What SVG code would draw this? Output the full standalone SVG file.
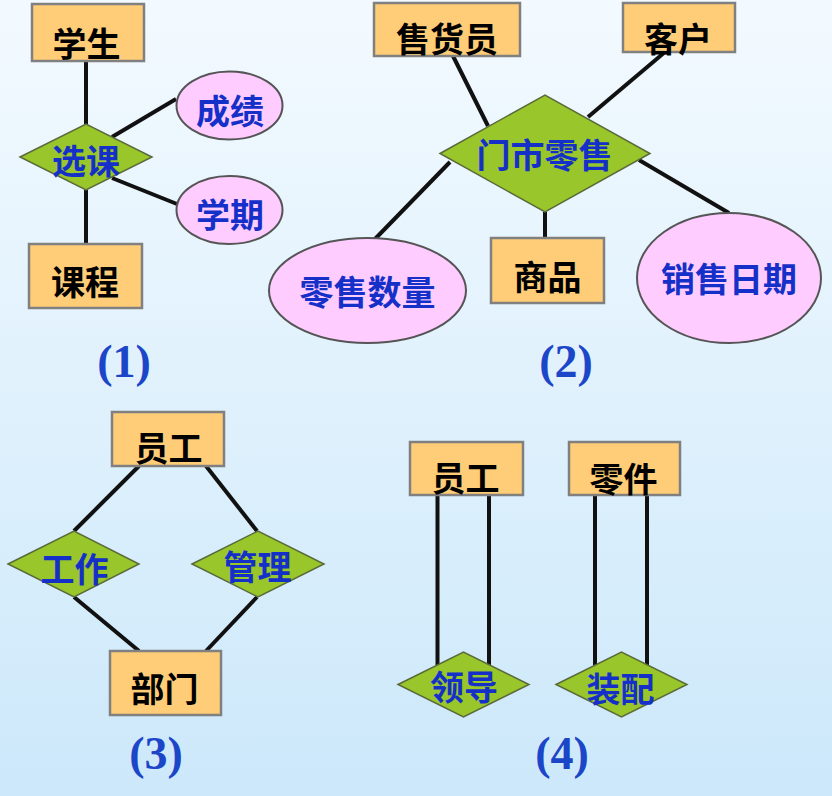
<svg xmlns="http://www.w3.org/2000/svg" width="832" height="796" viewBox="0 0 832 796">
<defs>
<linearGradient id="bg" x1="0" y1="0" x2="0" y2="1">
<stop offset="0" stop-color="#f3faff"/>
<stop offset="1" stop-color="#cce8fa"/>
</linearGradient>
<style>
.ent{fill:#ffcc77;stroke:#808080;stroke-width:2.5}
.att{fill:#ffccff;stroke:#555555;stroke-width:2}
.rel{fill:#99c62a;stroke:#5a6a3a;stroke-width:1.5}
.ln{stroke:#111111;stroke-width:4;fill:none}
.te{font-family:"Noto Sans CJK SC","Noto Sans CJK JP",sans-serif;font-size:34px;font-weight:bold;fill:#000000;text-anchor:middle}
.tb{font-family:"Noto Sans CJK SC","Noto Sans CJK JP",sans-serif;font-size:34px;font-weight:bold;fill:#1530c8;text-anchor:middle}
.lab{font-family:"Liberation Serif",serif;font-size:46px;font-weight:bold;fill:#1c46c8;text-anchor:middle}
</style>
</defs>
<rect x="0" y="0" width="832" height="796" fill="url(#bg)"/>

<g id="connectors">
<!-- (1) -->
<line class="ln" x1="86" y1="61" x2="86" y2="124"/>
<line class="ln" x1="86" y1="190" x2="86" y2="244"/>
<line class="ln" x1="112" y1="137" x2="176" y2="99"/>
<line class="ln" x1="112" y1="178" x2="177" y2="204"/>
<!-- (2) -->
<line class="ln" x1="453" y1="56" x2="488" y2="126"/>
<line class="ln" x1="665" y1="52" x2="588" y2="117"/>
<line class="ln" x1="450" y1="162" x2="375" y2="239"/>
<line class="ln" x1="545" y1="212" x2="545" y2="238"/>
<line class="ln" x1="639" y1="160" x2="729" y2="213"/>
<!-- (3) -->
<line class="ln" x1="139" y1="466" x2="74" y2="531"/>
<line class="ln" x1="206" y1="466" x2="257" y2="531"/>
<line class="ln" x1="74" y1="597" x2="139" y2="651"/>
<line class="ln" x1="257" y1="597" x2="206" y2="651"/>
<!-- (4) -->
<line class="ln" x1="437.5" y1="495" x2="437.5" y2="665"/>
<line class="ln" x1="489" y1="495" x2="489" y2="665"/>
<line class="ln" x1="595" y1="495" x2="595" y2="665"/>
<line class="ln" x1="647" y1="495" x2="647" y2="665"/>
</g>

<!-- (1) -->
<g id="n-xuesheng"><rect class="ent" x="32" y="4" width="112" height="57"/><text class="te" x="86.5" y="57">学生</text></g>
<g id="n-xuanke"><polygon class="rel" points="20,157 86,124 152,157 86,190"/><text class="tb" x="86" y="174">选课</text></g>
<g id="n-chengji"><ellipse class="att" cx="229.5" cy="105.5" rx="53" ry="34"/><text class="tb" x="230" y="124">成绩</text></g>
<g id="n-xueqi"><ellipse class="att" cx="229.5" cy="210" rx="53" ry="34"/><text class="tb" x="230" y="228">学期</text></g>
<g id="n-kecheng"><rect class="ent" x="29" y="244" width="113" height="64"/><text class="te" x="85" y="295">课程</text></g>
<text class="lab" x="124" y="377">(1)</text>

<!-- (2) -->
<g id="n-shouhuoyuan"><rect class="ent" x="374" y="3" width="146" height="53"/><text class="te" x="447" y="52">售货员</text></g>
<g id="n-kehu"><rect class="ent" x="623" y="3" width="112" height="49"/><text class="te" x="678" y="52">客户</text></g>
<g id="n-menshilingshou"><polygon class="rel" points="440,153.5 545,95 650,153.5 545,212"/><text class="tb" x="544.5" y="168">门市零售</text></g>
<g id="n-lingshoushuliang"><ellipse class="att" cx="367.5" cy="290.5" rx="98.5" ry="52.5"/><text class="tb" x="367.5" y="305">零售数量</text></g>
<g id="n-shangpin"><rect class="ent" x="491" y="238" width="113" height="65"/><text class="te" x="547.5" y="290">商品</text></g>
<g id="n-xiaoshouriqi"><ellipse class="att" cx="729" cy="278" rx="92" ry="65"/><text class="tb" x="729" y="292">销售日期</text></g>
<text class="lab" x="566" y="377">(2)</text>

<!-- (3) -->
<g id="n-yuangong3"><rect class="ent" x="112" y="412" width="112" height="54"/><text class="te" x="168.5" y="461">员工</text></g>
<g id="n-gongzuo"><polygon class="rel" points="8,564 74,531 139,564 74,597"/><text class="tb" x="74.5" y="582">工作</text></g>
<g id="n-guanli"><polygon class="rel" points="192,564 258,531 324,564 258,597"/><text class="tb" x="257.5" y="580">管理</text></g>
<g id="n-bumen"><rect class="ent" x="110" y="651" width="111" height="64"/><text class="te" x="164.5" y="702">部门</text></g>
<text class="lab" x="156" y="769">(3)</text>

<!-- (4) -->
<g id="n-yuangong4"><rect class="ent" x="410" y="442" width="113" height="53"/><text class="te" x="465.5" y="491">员工</text></g>
<g id="n-lingjian"><rect class="ent" x="569" y="442" width="111" height="53"/><text class="te" x="623.5" y="492">零件</text></g>
<g id="n-lingdao"><polygon class="rel" points="398,684.5 463.5,652 529,684.5 463.5,717"/><text class="tb" x="464" y="700">领导</text></g>
<g id="n-zhuangpei"><polygon class="rel" points="556,684.5 621.5,652 687,684.5 621.5,717"/><text class="tb" x="620.5" y="702">装配</text></g>
<text class="lab" x="562" y="769">(4)</text>
</svg>
